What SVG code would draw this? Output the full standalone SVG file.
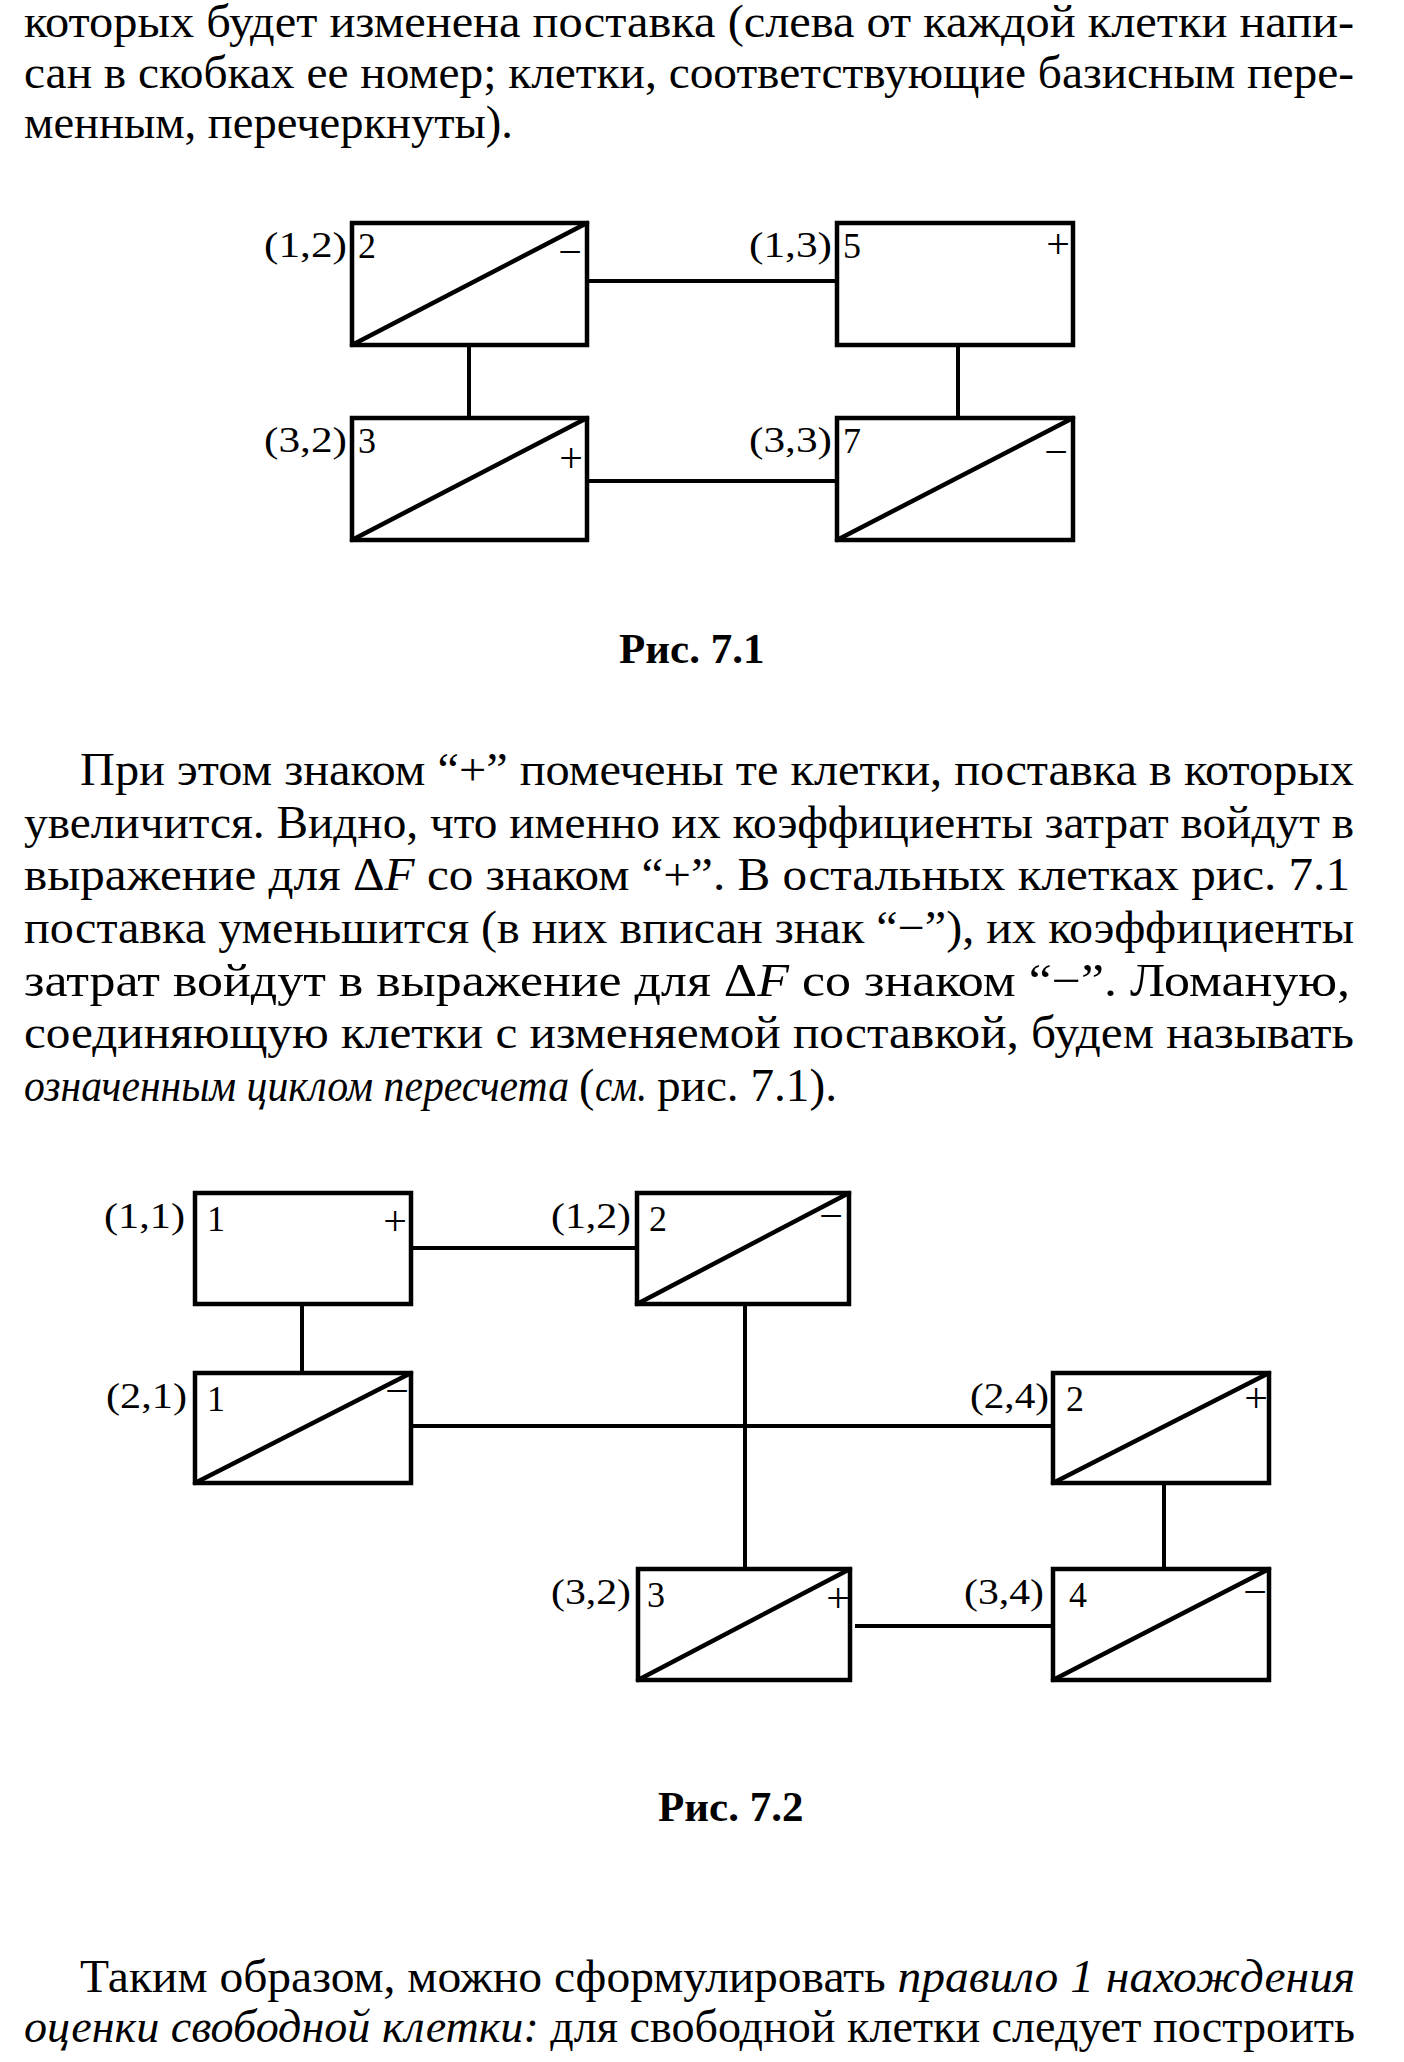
<svg xmlns="http://www.w3.org/2000/svg" width="1404" height="2062" viewBox="0 0 1404 2062">
<style>
.bg{fill:#fff}
.box{fill:none;stroke:#000;stroke-width:4.5}
.diag{stroke:#000;stroke-width:4.5;stroke-linecap:round}
.conn{stroke:#000;stroke-width:4;fill:none}
.t{font-family:"Liberation Serif","Times New Roman",serif;font-size:46px;fill:#000}
.i{font-style:italic}
.cap{font-family:"Liberation Serif","Times New Roman",serif;font-size:43px;font-weight:bold;fill:#000}
.lbl{font-family:"Liberation Serif","Times New Roman",serif;font-size:36px;fill:#000}
.sg{font-family:"Liberation Serif","Times New Roman",serif;font-size:42px;fill:#000;text-anchor:middle}
</style>
<rect class="bg" x="0" y="0" width="1404" height="2062"/>

<g id="text-top">
<text class="t" x="24" y="37" textLength="1330" lengthAdjust="spacingAndGlyphs">которых будет изменена поставка (слева от каждой клетки напи-</text>
<text class="t" x="24" y="88" textLength="1330" lengthAdjust="spacingAndGlyphs">сан в скобках ее номер; клетки, соответствующие базисным пере-</text>
<text class="t" x="24" y="138" textLength="489" lengthAdjust="spacingAndGlyphs">менным, перечеркнуты).</text>
</g>

<g id="fig71-connectors">
<line class="conn" x1="587" y1="281" x2="837" y2="281"/>
<line class="conn" x1="469" y1="345" x2="469" y2="418"/>
<line class="conn" x1="958" y1="345" x2="958" y2="418"/>
<line class="conn" x1="587" y1="481" x2="837" y2="481"/>
</g>

<g id="fig71-n12">
<rect class="box" x="352" y="223" width="235" height="122"/>
<line class="diag" x1="352" y1="345" x2="587" y2="223"/>
<text class="lbl" x="264" y="257" textLength="83" lengthAdjust="spacingAndGlyphs">(1,2)</text>
<text class="lbl" x="358" y="258">2</text>
<text class="sg" x="570" y="266">−</text>
</g>
<g id="fig71-n13">
<rect class="box" x="837" y="223" width="236" height="122"/>
<text class="lbl" x="749" y="257" textLength="83" lengthAdjust="spacingAndGlyphs">(1,3)</text>
<text class="lbl" x="843" y="258">5</text>
<text class="sg" x="1058" y="258">+</text>
</g>
<g id="fig71-n32">
<rect class="box" x="352" y="418" width="235" height="122"/>
<line class="diag" x1="352" y1="540" x2="587" y2="418"/>
<text class="lbl" x="264" y="452" textLength="83" lengthAdjust="spacingAndGlyphs">(3,2)</text>
<text class="lbl" x="358" y="453">3</text>
<text class="sg" x="571" y="472">+</text>
</g>
<g id="fig71-n33">
<rect class="box" x="837" y="418" width="236" height="122"/>
<line class="diag" x1="837" y1="540" x2="1073" y2="418"/>
<text class="lbl" x="749" y="452" textLength="83" lengthAdjust="spacingAndGlyphs">(3,3)</text>
<text class="lbl" x="843" y="453">7</text>
<text class="sg" x="1056" y="466">−</text>
</g>

<text id="cap71" class="cap" x="619" y="663">Рис. 7.1</text>

<g id="text-mid">
<text class="t" x="80" y="785" textLength="1274" lengthAdjust="spacingAndGlyphs">При этом знаком “+” помечены те клетки, поставка в которых</text>
<text class="t" x="24" y="838" textLength="1330" lengthAdjust="spacingAndGlyphs">увеличится. Видно, что именно их коэффициенты затрат войдут в</text>
<text class="t" x="24" y="890" textLength="1326" lengthAdjust="spacingAndGlyphs">выражение для Δ<tspan class="i">F</tspan> со знаком “+”. В остальных клетках рис. 7.1</text>
<text class="t" x="24" y="943" textLength="1330" lengthAdjust="spacingAndGlyphs">поставка уменьшится (в них вписан знак “−”), их коэффициенты</text>
<text class="t" x="24" y="996" textLength="1326" lengthAdjust="spacingAndGlyphs">затрат войдут в выражение для Δ<tspan class="i">F</tspan> со знаком “−”. Ломаную,</text>
<text class="t" x="24" y="1048" textLength="1330" lengthAdjust="spacingAndGlyphs">соединяющую клетки с изменяемой поставкой, будем называть</text>
<text class="t i" x="24" y="1101" textLength="545" lengthAdjust="spacingAndGlyphs">означенным циклом пересчета</text>
<text class="t" x="579" y="1101">(</text>
<text class="t i" x="595" y="1101" textLength="52" lengthAdjust="spacingAndGlyphs">см.</text>
<text class="t" x="657" y="1101" textLength="180" lengthAdjust="spacingAndGlyphs">рис. 7.1).</text>
</g>

<g id="fig72-connectors">
<line class="conn" x1="411" y1="1248" x2="636" y2="1248"/>
<line class="conn" x1="302" y1="1304" x2="302" y2="1373"/>
<line class="conn" x1="411" y1="1426" x2="1055" y2="1426"/>
<line class="conn" x1="745" y1="1304" x2="745" y2="1571"/>
<line class="conn" x1="1164" y1="1483" x2="1164" y2="1571"/>
<line class="conn" x1="855" y1="1626" x2="1055" y2="1626"/>
</g>

<g id="fig72-n11">
<rect class="box" x="195" y="1193" width="216" height="111"/>
<text class="lbl" x="104" y="1228" textLength="81" lengthAdjust="spacingAndGlyphs">(1,1)</text>
<text class="lbl" x="207" y="1231">1</text>
<text class="sg" x="395" y="1235">+</text>
</g>
<g id="fig72-n12">
<rect class="box" x="637" y="1193" width="212" height="111"/>
<line class="diag" x1="637" y1="1304" x2="849" y2="1193"/>
<text class="lbl" x="551" y="1228" textLength="80" lengthAdjust="spacingAndGlyphs">(1,2)</text>
<text class="lbl" x="649" y="1231">2</text>
<text class="sg" x="831" y="1230">−</text>
</g>
<g id="fig72-n21">
<rect class="box" x="195" y="1373" width="216" height="110"/>
<line class="diag" x1="195" y1="1483" x2="411" y2="1373"/>
<text class="lbl" x="106" y="1408" textLength="81" lengthAdjust="spacingAndGlyphs">(2,1)</text>
<text class="lbl" x="207" y="1411">1</text>
<text class="sg" x="397" y="1405">−</text>
</g>
<g id="fig72-n24">
<rect class="box" x="1053" y="1373" width="216" height="110"/>
<line class="diag" x1="1053" y1="1483" x2="1269" y2="1373"/>
<text class="lbl" x="970" y="1408" textLength="79" lengthAdjust="spacingAndGlyphs">(2,4)</text>
<text class="lbl" x="1066" y="1411">2</text>
<text class="sg" x="1256" y="1412">+</text>
</g>
<g id="fig72-n32">
<rect class="box" x="638" y="1569" width="212" height="111"/>
<line class="diag" x1="638" y1="1680" x2="850" y2="1569"/>
<text class="lbl" x="551" y="1604" textLength="80" lengthAdjust="spacingAndGlyphs">(3,2)</text>
<text class="lbl" x="647" y="1607">3</text>
<text class="sg" x="838" y="1612">+</text>
</g>
<g id="fig72-n34">
<rect class="box" x="1053" y="1569" width="216" height="111"/>
<line class="diag" x1="1053" y1="1680" x2="1269" y2="1569"/>
<text class="lbl" x="964" y="1604" textLength="80" lengthAdjust="spacingAndGlyphs">(3,4)</text>
<text class="lbl" x="1069" y="1607">4</text>
<text class="sg" x="1255" y="1606">−</text>
</g>

<text id="cap72" class="cap" x="658" y="1821">Рис. 7.2</text>

<g id="text-bottom">
<text class="t" x="80" y="1992" textLength="1275" lengthAdjust="spacingAndGlyphs">Таким образом, можно сформулировать <tspan class="i">правило 1 нахождения</tspan></text>
<text class="t" x="24" y="2042" textLength="1331" lengthAdjust="spacingAndGlyphs"><tspan class="i">оценки свободной клетки:</tspan> для свободной клетки следует построить</text>
</g>
</svg>
